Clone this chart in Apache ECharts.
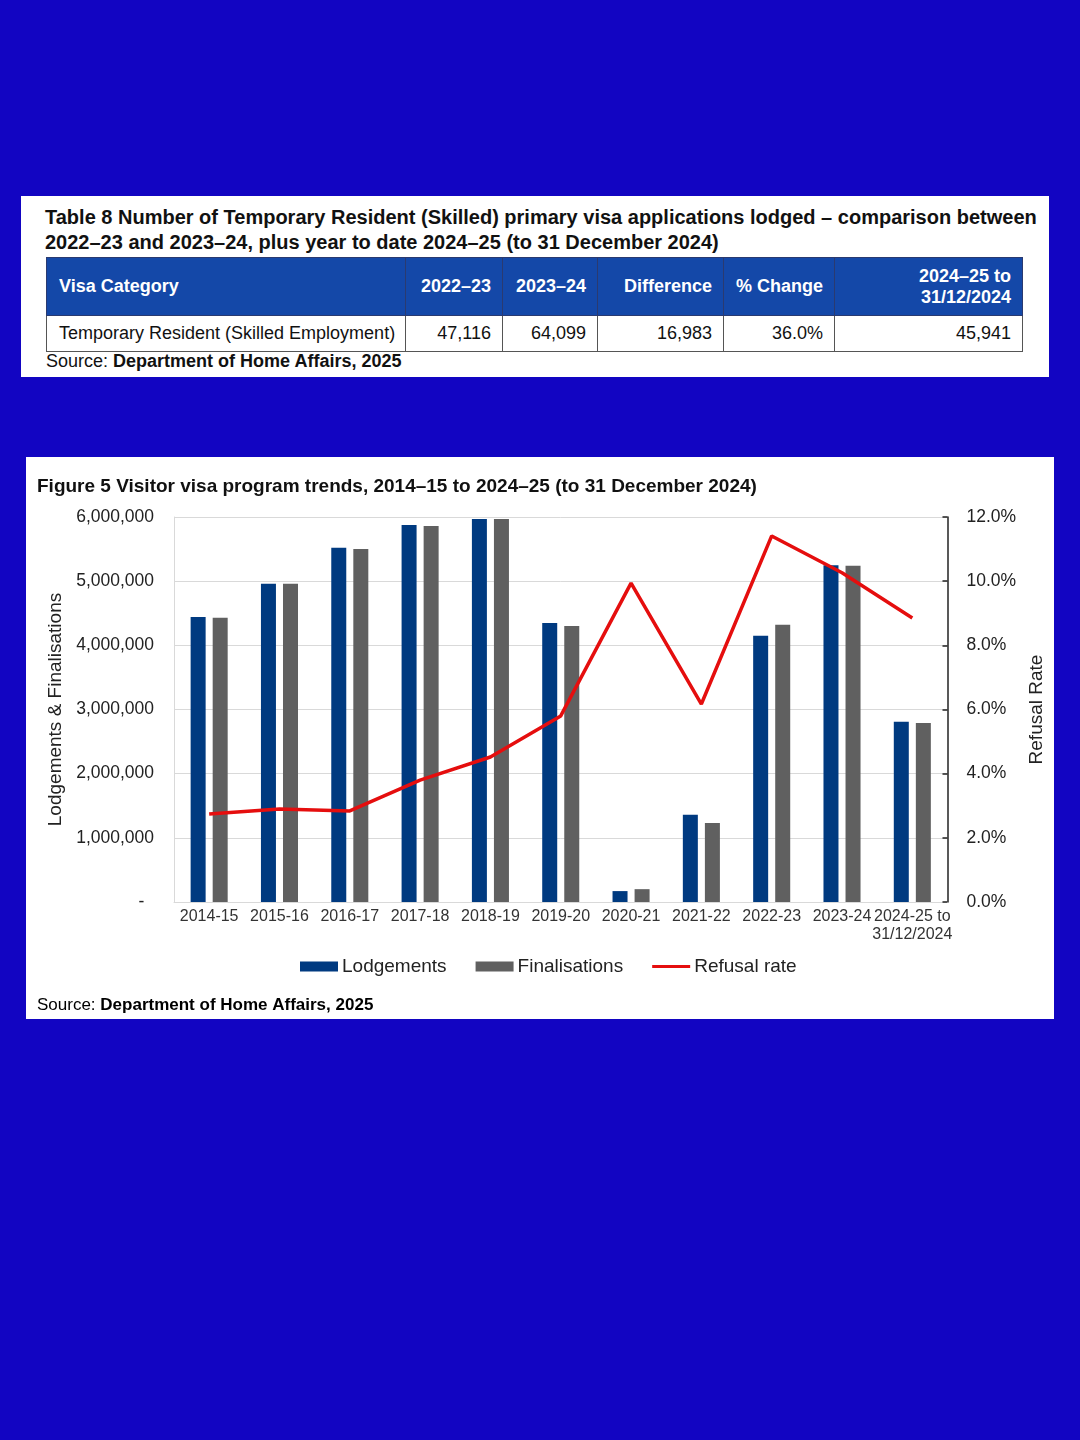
<!DOCTYPE html>
<html><head><meta charset="utf-8">
<script src="https://cdn.jsdelivr.net/npm/echarts@6/dist/echarts.min.js"></script>
<style>
html,body{margin:0;padding:0;width:1080px;height:1440px;background:#1205c2;overflow:hidden;font-family:"Liberation Sans",Arial,sans-serif;}
#tbox{position:absolute;left:21px;top:196px;width:1028px;height:181px;background:#fff;}
#ttitle{position:absolute;left:24px;top:9px;font-size:20px;font-weight:bold;color:#111;line-height:25px;white-space:nowrap;}
table{position:absolute;left:25px;top:61px;border-collapse:collapse;font-size:18px;color:#111;table-layout:fixed;width:976px;}
th{background:#1448a8;color:#fff;font-weight:bold;height:57px;border:1px solid #2a3a70;padding:0 11px 0 8px;text-align:right;line-height:21px;white-space:nowrap;}
td{height:35px;border:1px solid #555;padding:0 11px 0 8px;text-align:right;white-space:nowrap;}
#tsrc{position:absolute;left:25px;top:155px;font-size:18px;color:#111;}
#cbox{position:absolute;left:26px;top:457px;width:1028px;height:562px;background:#fff;}
</style></head>
<body>
<div id="tbox">
<div id="ttitle">Table 8 Number of Temporary Resident (Skilled) primary visa applications lodged – comparison between<br>2022–23 and 2023–24, plus year to date 2024–25 (to 31 December 2024)</div>
<table id="tbl"></table>
<div id="tsrc">Source: <b>Department of Home Affairs, 2025</b></div>
</div>
<div id="cbox"></div>
<script>
// Table data
const tableHeaders = ['Visa Category', '2022–23', '2023–24', 'Difference', '% Change', '2024–25 to<br>31/12/2024'];
const tableRow = ['Temporary Resident (Skilled Employment)', '47,116', '64,099', '16,983', '36.0%', '45,941'];
const colWidths = [359, 97, 95, 126, 111, 188];

// Chart data
const categories = ['2014-15','2015-16','2016-17','2017-18','2018-19','2019-20','2020-21','2021-22','2022-23','2023-24','2024-25 to\n31/12/2024'];
const lodgements = [4440000, 4960000, 5520000, 5875000, 5970000, 4350000, 170000, 1360000, 4150000, 5250000, 2810000];
const finalisations = [4430000, 4960000, 5500000, 5860000, 5970000, 4300000, 200000, 1230000, 4320000, 5240000, 2790000];
const refusalRate = [2.74, 2.9, 2.84, 3.8, 4.52, 5.8, 9.94, 6.17, 11.41, 10.26, 8.85];

// build table
(function(){
  const t = document.getElementById('tbl');
  let h = '<colgroup>' + colWidths.map(w => '<col style="width:'+w+'px">').join('') + '</colgroup><tr>';
  tableHeaders.forEach((x,i)=>{ h += '<th style="'+(i===0?'text-align:left;padding-left:12px;':'')+'">'+x+'</th>'; });
  h += '</tr><tr>';
  tableRow.forEach((x,i)=>{ h += '<td style="'+(i===0?'text-align:left;padding-left:12px;':'')+'">'+x+'</td>'; });
  h += '</tr>';
  t.innerHTML = h;
})();

const chart = echarts.init(document.getElementById('cbox'), null, {renderer:'canvas'});
const FONT = '"Liberation Sans", Arial, sans-serif';
chart.setOption({
  backgroundColor: '#fff',
  animation: false,
  textStyle: {fontFamily: FONT},
  title: {
    text: 'Figure 5 Visitor visa program trends, 2014–15 to 2024–25 (to 31 December 2024)',
    left: 11, top: 20, padding: 0,
    textStyle: {fontFamily: FONT, fontSize: 19, fontWeight: 'bold', color: '#111'}
  },
  graphic: [{
    type: 'text', left: 11, top: 540,
    style: {
      text: '{n|Source: }{b|Department of Home Affairs, 2025}',
      rich: {
        n: {fontFamily: FONT, fontSize: 17, color: '#111'},
        b: {fontFamily: FONT, fontSize: 17, fontWeight: 'bold', color: '#111'}
      }
    }
  }],
  legend: {
    left: 274, top: 500, padding: 0,
    itemWidth: 38, itemHeight: 10, itemGap: 29,
    textStyle: {fontFamily: FONT, fontSize: 19, color: '#222', padding: [0,0,0,-1]},
    data: [
      {name: 'Lodgements', icon: 'rect'},
      {name: 'Finalisations', icon: 'rect'},
      {name: 'Refusal rate', icon: 'path://M0,0 M0,10 M0,3.5 L38,3.5 L38,6.5 L0,6.5 Z'}
    ]
  },
  grid: {left: 148, right: 105, top: 60, bottom: 117, containLabel: false},
  xAxis: {
    type: 'category', data: categories,
    axisLine: {show: true, lineStyle: {color: '#d9d9d9'}},
    axisTick: {show: false},
    axisLabel: {fontFamily: FONT, fontSize: 16, color: '#333', margin: 6, interval: 0, lineHeight: 18}
  },
  yAxis: [{
    type: 'value', min: 0, max: 6000000, interval: 1000000,
    name: 'Lodgements & Finalisations', nameLocation: 'middle', nameGap: 109, nameRotate: 90,
    nameTextStyle: {fontFamily: FONT, fontSize: 19, color: '#222'},
    axisLine: {show: true, lineStyle: {color: '#d9d9d9'}},
    axisTick: {show: false},
    splitLine: {show: true, lineStyle: {color: '#d9d9d9', width: 1}},
    axisLabel: {fontFamily: FONT, fontSize: 17.5, color: '#222', margin: 20,
      formatter: v => v === 0 ? '-  ' : v.toLocaleString('en-US')}
  }, {
    type: 'value', min: 0, max: 12, interval: 2, position: 'right',
    name: 'Refusal Rate', nameLocation: 'middle', nameGap: 78, nameRotate: 90,
    nameTextStyle: {fontFamily: FONT, fontSize: 19, color: '#222'},
    axisLine: {show: true, lineStyle: {color: '#222', width: 1.5}},
    axisTick: {show: true, inside: true, length: 5, lineStyle: {color: '#222', width: 1.5}},
    splitLine: {show: false},
    axisLabel: {fontFamily: FONT, fontSize: 17.5, color: '#222', margin: 19,
      formatter: v => v.toFixed(1) + '%'}
  }],
  series: [{
    name: 'Lodgements', type: 'bar', data: lodgements, barWidth: 15, barGap: '47%',
    itemStyle: {color: '#003a80'}
  }, {
    name: 'Finalisations', type: 'bar', data: finalisations, barWidth: 15,
    itemStyle: {color: '#606060'}
  }, {
    name: 'Refusal rate', type: 'line', yAxisIndex: 1, data: refusalRate,
    symbol: 'none', lineStyle: {color: '#e50e0e', width: 3.5}, itemStyle: {color: '#e50e0e'}
  }]
});
</script>
</body></html>
